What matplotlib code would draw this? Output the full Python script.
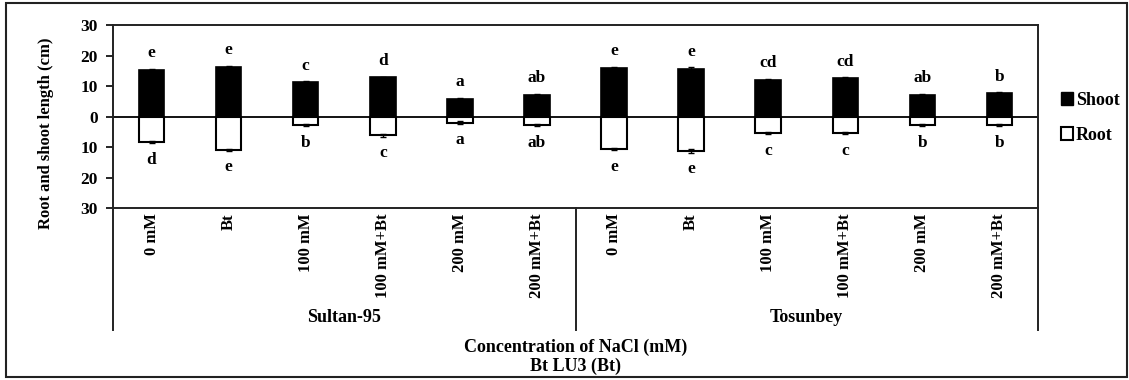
import matplotlib.pyplot as plt
from matplotlib.patches import Patch, Rectangle
from matplotlib.transforms import blended_transform_factory

plt.rcParams["font.family"] = ["Liberation Serif", "DejaVu Serif"]
plt.rcParams["font.weight"] = "bold"

treatments = ["0 mM", "Bt", "100 mM", "100 mM+Bt", "200 mM", "200 mM+Bt"]
cultivars = ["Sultan-95", "Tosunbey"]

shoot = [15.2, 16.3, 11.2, 12.8, 5.7, 7.1, 16.0, 15.6, 12.0, 12.5, 7.0, 7.6]
root = [8.3, 10.9, 2.8, 6.1, 2.0, 2.8, 10.6, 11.4, 5.4, 5.4, 2.8, 2.8]
shoot_err = [0.3, 0.3, 0.3, 0.3, 0.5, 0.3, 0.3, 0.5, 0.3, 0.3, 0.3, 0.3]
root_err = [0.3, 0.3, 0.3, 0.5, 0.4, 0.4, 0.4, 0.6, 0.3, 0.3, 0.3, 0.3]
shoot_letters = ["e", "e", "c", "d", "a", "ab", "e", "e", "cd", "cd", "ab", "b"]
root_letters = ["d", "e", "b", "c", "a", "ab", "e", "e", "c", "c", "b", "b"]

labels = treatments * len(cultivars)
x = list(range(len(labels)))

fig = plt.figure(figsize=(11.29, 3.8), dpi=100)
ax = fig.add_axes([0.1001, 0.4526, 0.8193, 0.4816])

ax.bar(x, shoot, width=0.33, color="black", edgecolor="black", linewidth=1.2,
       yerr=shoot_err, error_kw=dict(ecolor="black", elinewidth=1, capsize=2), label="Shoot")
ax.bar(x, [-r for r in root], width=0.33, color="white", edgecolor="black", linewidth=1.5,
       yerr=root_err, error_kw=dict(ecolor="black", elinewidth=1, capsize=2), label="Root")

for xi, s, r, ls, lr in zip(x, shoot, root, shoot_letters, root_letters):
    ax.text(xi, s + 5.5, ls, ha="center", va="center", fontsize=12.5, fontweight="bold")
    ax.text(xi, -r - 5.8, lr, ha="center", va="center", fontsize=12.5, fontweight="bold")

ax.axhline(0, color="black", linewidth=1.3, zorder=0.5)
ax.set_xlim(-0.5, len(labels) - 0.5)
ax.set_ylim(-30, 30)
yt = [-30, -20, -10, 0, 10, 20, 30]
ax.set_yticks(yt)
ax.set_yticklabels([str(abs(v)) for v in yt], fontsize=12.5, fontweight="bold")
ax.tick_params(axis="y", length=5, width=1.2, pad=6)
ax.set_xticks(x)
ax.set_xticklabels(labels, rotation=90, va="top", ha="center", fontsize=12, fontweight="bold")
ax.tick_params(axis="x", length=0, pad=4)
for sp in ax.spines.values():
    sp.set_linewidth(1.4)
    sp.set_color("#222222")

# category separators below the axis
trans = blended_transform_factory(ax.transData, ax.transAxes)
n = len(treatments)
for pos in [-0.5, n - 0.5, 2 * n - 0.5]:
    ax.plot([pos, pos], [0, -0.667], color="#222222", linewidth=1.4,
            transform=trans, clip_on=False)
for i, name in enumerate(cultivars):
    ax.text(i * n + (n - 1) / 2, -0.60, name, transform=trans, ha="center", va="center",
            fontsize=13, fontweight="bold")

fig.text(0.5095, 0.087, "Concentration of NaCl (mM)", ha="center", va="center",
         fontsize=13, fontweight="bold")
fig.text(0.5095, 0.037, "Bt LU3 (Bt)", ha="center", va="center", fontsize=13, fontweight="bold")
fig.text(0.041, 0.65, "Root and shoot length (cm)", rotation=90, ha="center", va="center",
         fontsize=12, fontweight="bold")

handles = [Patch(facecolor="black", edgecolor="black"),
           Patch(facecolor="white", edgecolor="black", linewidth=1.5)]
fig.legend(handles, ["Shoot", "Root"], loc="center left", bbox_to_anchor=(0.925, 0.69),
           frameon=False, handlelength=0.7, handleheight=0.7, handletextpad=0.15,
           labelspacing=1.0, prop=dict(size=13, weight="bold"))

fig.patches.append(Rectangle((0.005, 0.008), 0.993, 0.984, transform=fig.transFigure,
                             fill=False, edgecolor="#222222", linewidth=1.5))

fig.savefig("out.png", dpi=100)
